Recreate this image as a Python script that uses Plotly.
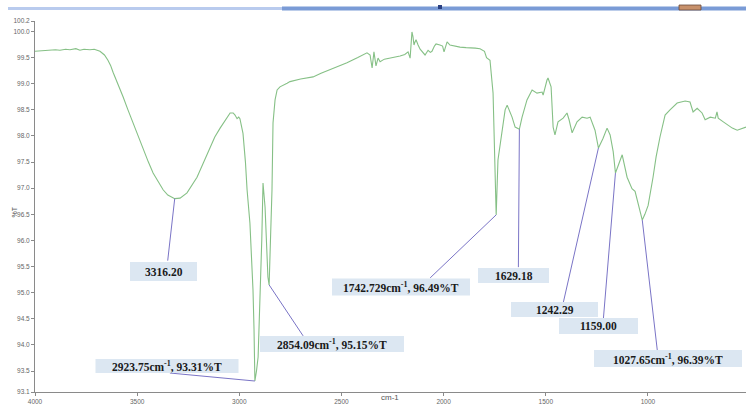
import plotly.graph_objects as go

# FTIR spectrum: wavenumber (cm-1) and transmittance (%T)
wavenumber = [
    4000, 3960, 3927, 3900, 3878, 3850, 3829, 3800, 3780, 3760, 3731, 3710,
    3682, 3660, 3643, 3630, 3618, 3590, 3569, 3545, 3520, 3495, 3471, 3445,
    3422, 3395, 3373, 3350, 3324, 3316.20, 3290, 3256, 3207, 3175, 3143, 3120,
    3094, 3070, 3045, 3030, 3021, 3011, 3003, 2997, 2990, 2982, 2970, 2962,
    2948, 2933, 2928, 2923.75, 2916, 2908, 2890, 2884, 2874, 2860, 2854.09,
    2848, 2840, 2835, 2825, 2815, 2801, 2766, 2752, 2700, 2669, 2639, 2600,
    2556, 2520, 2473, 2420, 2375, 2360, 2350, 2341, 2331, 2321, 2311, 2290,
    2262, 2240, 2213, 2190, 2174, 2164, 2155, 2150, 2145, 2140, 2135, 2125,
    2115, 2091, 2076, 2065, 2057, 2045, 2037, 2018, 2005, 1998, 1990, 1983,
    1969, 1950, 1920, 1890, 1871, 1845, 1822, 1800, 1790, 1773, 1758, 1748,
    1742.729, 1734, 1714, 1699, 1689, 1665, 1650, 1629.18, 1616, 1592, 1567,
    1543, 1518, 1513, 1494, 1489, 1474, 1464, 1455, 1440, 1415, 1396, 1386,
    1371, 1347, 1322, 1298, 1283, 1259, 1242.29, 1220, 1200, 1185, 1170,
    1159.00, 1140, 1126, 1102, 1078, 1063, 1048, 1027.65, 1015, 999, 975,
    960, 941, 916, 892, 857, 818, 794, 779, 770, 759, 735, 720, 695, 670,
    662, 656, 631, 587, 563, 539, 520,
]
transmittance = [
    99.62, 99.63, 99.64, 99.65, 99.64, 99.66, 99.65, 99.67, 99.64, 99.66, 99.65, 99.66,
    99.62, 99.55, 99.45, 99.35, 99.22, 98.97, 98.75, 98.50, 98.25, 97.98, 97.73, 97.50,
    97.29, 97.12, 96.97, 96.87, 96.81, 96.80, 96.81, 96.91, 97.21, 97.50, 97.79, 97.98,
    98.15, 98.30, 98.44, 98.44, 98.40, 98.33, 98.36, 98.33, 98.20, 98.05, 97.50, 96.97,
    96.33, 95.05, 94.30, 93.31, 93.50, 93.77, 96.01, 97.10, 96.64, 95.30, 95.15,
    96.00, 96.97, 98.25, 98.69, 98.88, 98.94, 99.01, 99.04, 99.09, 99.11, 99.13, 99.20,
    99.27, 99.33, 99.40, 99.50, 99.59, 99.55, 99.30, 99.61, 99.34, 99.49, 99.42, 99.47,
    99.49, 99.51, 99.53, 99.56, 99.61, 99.49, 99.99, 99.90, 99.74, 99.80, 99.84, 99.74,
    99.66, 99.55, 99.64, 99.60, 99.62, 99.72, 99.76, 99.74, 99.72, 99.61, 99.72, 99.80,
    99.74, 99.72, 99.70, 99.69, 99.68, 99.68, 99.67, 99.62, 99.50, 99.45, 98.82, 97.54,
    96.49, 97.54, 98.06, 98.50, 98.59, 98.36, 98.17, 98.13, 98.36, 98.69, 98.88,
    98.82, 98.84, 98.78, 99.07, 99.11, 98.94, 98.17, 98.02, 98.27, 98.34, 98.44, 98.31,
    98.06, 98.27, 98.36, 98.34, 98.36, 98.11, 97.77, 97.95, 98.15, 98.02, 97.70,
    97.29, 97.50, 97.64, 97.21, 96.99, 96.94, 96.72, 96.39, 96.50, 96.67, 97.21,
    97.60, 97.98, 98.40, 98.50, 98.63, 98.67, 98.65, 98.46, 98.50, 98.53, 98.44, 98.31, 98.36, 98.34,
    98.46, 98.34, 98.27, 98.15, 98.11, 98.15, 98.17,
]

# Labelled bands
peak_wn = [3316.20, 2923.75, 2854.09, 1742.729, 1629.18, 1242.29, 1159.00, 1027.65]
peak_t = [96.80, 93.31, 95.15, 96.49, 98.13, 97.77, 97.29, 96.39]
peak_text = [
    "3316.20",
    "2923.75cm<sup>-1</sup>, 93.31%T",
    "2854.09cm<sup>-1</sup>, 95.15%T",
    "1742.729cm<sup>-1</sup>, 96.49%T",
    "1629.18",
    "1242.29",
    "1159.00",
    "1027.65cm<sup>-1</sup>, 96.39%T",
]
# leader-line tail offsets (px, screen y downwards) and label box centres / sizes (px)
leader_dx = [-7, -85, 34, -66, -1, -35, -12, 15]
leader_dy = [62, -8, 51, 63, 138, 154, 145, 130]
box_cx = [163.5, 167, 332, 401, 513.5, 554.5, 598.5, 668]
box_cy = [271.5, 366, 344, 287, 275.5, 309.5, 326, 358.5]
box_w = [67, 143, 144, 138, 71, 87, 79, 148]
box_h = [19, 14, 16, 17, 15, 15, 16, 17]

x_ticks = [4000, 3500, 3000, 2500, 2000, 1500, 1000]
y_ticks = [93.1, 93.5, 94.0, 94.5, 95.0, 95.5, 96.0, 96.5, 97.0, 97.5,
           98.0, 98.5, 99.0, 99.5, 100.0, 100.2]

W, H = 746, 408
ML, MR, MT, MB = 35, 0, 21, 16
PW, PH = W - ML - MR, H - MT - MB


def px(xp):
    return (xp - ML) / PW


def py(yp):
    return (H - MB - yp) / PH


fig = go.Figure()
fig.add_trace(go.Scatter(
    x=wavenumber, y=transmittance, mode="lines",
    line=dict(color="#86c086", width=1.1), hoverinfo="skip",
))

shapes = []
# leader lines from each labelled band towards its label box
for wn, t, dx, dy in zip(peak_wn, peak_t, leader_dx, leader_dy):
    shapes.append(dict(
        type="line", xref="x", yref="y",
        xsizemode="pixel", ysizemode="pixel", xanchor=wn, yanchor=t,
        x0=0, y0=0, x1=dx, y1=-dy,
        line=dict(color="#7a74c6", width=1), layer="above",
    ))
# label backgrounds
for cx, cy, bw, bh in zip(box_cx, box_cy, box_w, box_h):
    shapes.append(dict(
        type="rect", xref="paper", yref="paper",
        x0=px(cx - bw / 2), x1=px(cx + bw / 2),
        y0=py(cy + bh / 2), y1=py(cy - bh / 2),
        fillcolor="#dce7f2", line=dict(width=0), layer="above",
    ))

annotations = []
for txt, cx, cy in zip(peak_text, box_cx, box_cy):
    annotations.append(dict(
        x=px(cx), y=py(cy), xref="paper", yref="paper",
        text=txt, showarrow=False,
        font=dict(family="Liberation Serif", size=11.5, color="#1a1a1a",
                  weight="bold"),
        xanchor="center", yanchor="middle",
    ))
annotations.append(dict(
    x=px(8), y=py(212), xref="paper", yref="paper", text="%T",
    textangle=-90, showarrow=False,
    font=dict(family="Liberation Sans", size=7, color="#555"),
))
annotations.append(dict(
    x=px(390), y=py(404), xref="paper", yref="paper", text="cm-1",
    showarrow=False, font=dict(family="Liberation Sans", size=8, color="#555"),
))

# window-chrome strip along the top edge
shapes += [
    dict(type="rect", xref="paper", yref="paper", x0=px(8), x1=px(282),
         y0=py(10), y1=py(7), fillcolor="#b9cbee", line=dict(width=0), layer="above"),
    dict(type="rect", xref="paper", yref="paper", x0=px(282), x1=px(746),
         y0=py(10.5), y1=py(6.5), fillcolor="#7a9bd6", line=dict(width=0), layer="above"),
    dict(type="rect", xref="paper", yref="paper", x0=px(438), x1=px(442),
         y0=py(9), y1=py(5), fillcolor="#2b3f80", line=dict(width=0), layer="above"),
    dict(type="rect", xref="paper", yref="paper", x0=px(679), x1=px(701),
         y0=py(10), y1=py(5), fillcolor="#c7906a", line=dict(color="#6b4a3a", width=0.8),
         layer="above"),
]

fig.update_layout(
    width=W, height=H,
    margin=dict(l=ML, r=MR, t=MT, b=MB),
    paper_bgcolor="white", plot_bgcolor="white",
    showlegend=False,
    annotations=annotations, shapes=shapes,
    xaxis=dict(
        range=[4000, 520], tickvals=x_ticks, ticktext=[str(v) for v in x_ticks],
        showgrid=False, zeroline=False, showline=True, linecolor="#8a8a8a",
        linewidth=1, ticks="outside", ticklen=3, tickcolor="#8a8a8a",
        tickfont=dict(family="Liberation Sans", size=6.5, color="#666"),
    ),
    yaxis=dict(
        range=[93.1, 100.2], tickvals=y_ticks,
        ticktext=["%.1f" % v for v in y_ticks],
        showgrid=False, zeroline=False, showline=True, linecolor="#8a8a8a",
        linewidth=1, ticks="outside", ticklen=3, tickcolor="#8a8a8a",
        tickfont=dict(family="Liberation Sans", size=6.5, color="#666"),
    ),
)

fig.write_html("out.html")
